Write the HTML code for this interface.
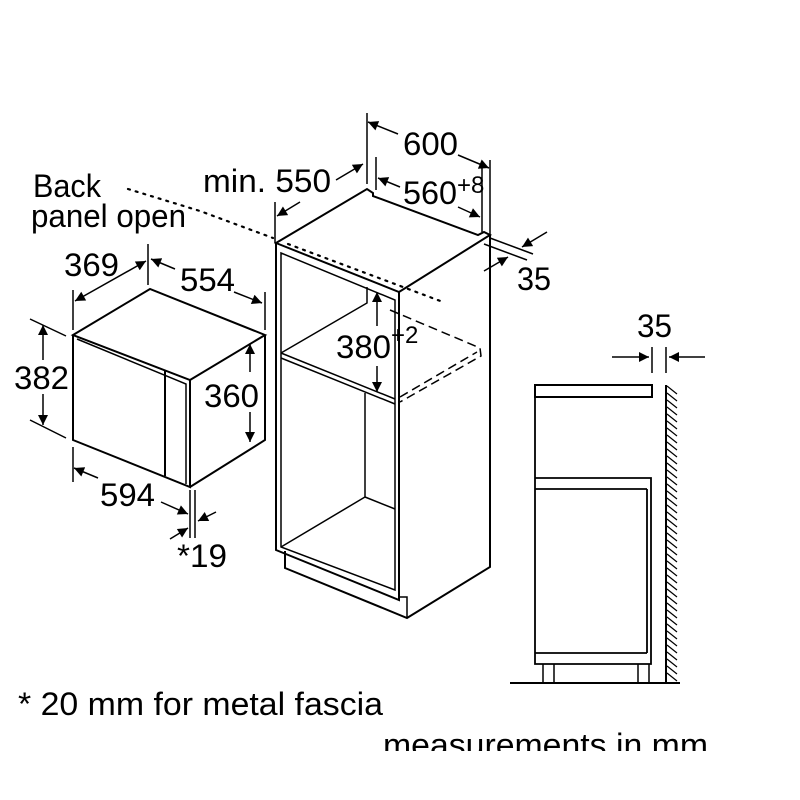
<!DOCTYPE html>
<html><head><meta charset="utf-8"><style>
html,body{margin:0;padding:0;background:#fff;}
svg{display:block;}
text{font-family:"Liberation Sans",Arial,sans-serif;fill:#000;}
</style></head><body>
<svg width="800" height="800" viewBox="0 0 800 800" xmlns="http://www.w3.org/2000/svg">
<defs>
<marker id="b" viewBox="0 0 10 10" refX="10" refY="5" markerWidth="15" markerHeight="10" orient="auto-start-reverse" markerUnits="userSpaceOnUse">
<path d="M0,0 L10,5 L0,10 z" fill="#000"/></marker>
<clipPath id="cl"><rect x="0" y="0" width="800" height="751"/></clipPath>
</defs>
<g fill="none" stroke="#000" stroke-width="2" stroke-linejoin="miter">
<!-- microwave -->
<path d="M73,335 L150,289 L265,335 L190,380 Z"/>
<path d="M73,335 L73,440 L190,487 L190,380"/>
<path d="M265,335 L265,440 L190,487"/>
<path d="M77,339 L186,384 L186,484" stroke-width="1.5"/>
<path d="M165,370 L165,476"/>
<!-- microwave dims -->
<path d="M73,290 V330 M148,244 V285 M265,292 V330" stroke-width="1.5"/>
<line x1="75" y1="301" x2="146" y2="261" marker-start="url(#b)" marker-end="url(#b)" stroke-width="1.5"/>
<line x1="151" y1="259" x2="175" y2="269" marker-start="url(#b)" stroke-width="1.5"/>
<line x1="234" y1="292" x2="262" y2="303" marker-end="url(#b)" stroke-width="1.5"/>
<path d="M30,319 L66,336 M30,420 L66,438" stroke-width="1.5"/>
<line x1="43" y1="325" x2="43" y2="360" marker-start="url(#b)" stroke-width="1.5"/>
<line x1="43" y1="394" x2="43" y2="425" marker-end="url(#b)" stroke-width="1.5"/>
<line x1="250" y1="344" x2="250" y2="372" marker-start="url(#b)" stroke-width="1.5"/>
<line x1="250" y1="412" x2="250" y2="442" marker-end="url(#b)" stroke-width="1.5"/>
<path d="M73,447 V482 M190,490 V538 M195,490 V538" stroke-width="1.5"/>
<line x1="74" y1="468" x2="98" y2="478" marker-start="url(#b)" stroke-width="1.5"/>
<line x1="161" y1="502" x2="188" y2="514" marker-end="url(#b)" stroke-width="1.5"/>
<line x1="170" y1="539" x2="188" y2="528" marker-end="url(#b)" stroke-width="1.5"/>
<line x1="216" y1="512" x2="198" y2="521" marker-end="url(#b)" stroke-width="1.5"/>
<!-- dotted back panel -->
<path d="M128,189 L200,211 L273,238" stroke-dasharray="2 6" stroke-linecap="round" stroke-width="2.2"/>
<path d="M288,244 L443,302" stroke-dasharray="2 6" stroke-linecap="round" stroke-width="2.2"/>
<!-- cabinet -->
<path d="M276,243 L367,189 L373,193 L373,196 L478,235 L484,232 L490,235 L399,292 Z"/>
<path d="M276,243 V550 L399,600 V292"/>
<path d="M281,253 L395,300 V590 L281,547 Z" stroke-width="1.5"/>
<path d="M281,353 L395,399 M281,358 L395,404" stroke-width="1.5"/>
<path d="M367,287 V303 L281,353" stroke-width="1.5"/>
<path d="M365,393 V497 L281,547 M365,497 L395,509" stroke-width="1.5"/>
<path d="M490,235 V567 L407,618 L285,568 V551"/>
<path d="M399,597 H407 V618" stroke-width="1.5"/>
<path d="M390,310 L480,348 L481,356 L400,402 M400,397 L477,352" stroke-dasharray="9 5" stroke-width="1.5"/>
<!-- cabinet dims -->
<path d="M367,113 V184 M490,160 V235 M376,157 V190 M482,167 V232 M275,202 V243" stroke-width="1.5"/>
<line x1="368" y1="122" x2="398" y2="134" marker-start="url(#b)" stroke-width="1.5"/>
<line x1="458" y1="155" x2="489" y2="168" marker-end="url(#b)" stroke-width="1.5"/>
<line x1="378" y1="178" x2="400" y2="187" marker-start="url(#b)" stroke-width="1.5"/>
<line x1="458" y1="207" x2="480" y2="217" marker-end="url(#b)" stroke-width="1.5"/>
<line x1="277" y1="216" x2="300" y2="202" marker-start="url(#b)" stroke-width="1.5"/>
<line x1="336" y1="180" x2="363" y2="164" marker-end="url(#b)" stroke-width="1.5"/>
<path d="M490,238 L533,254 M484,244 L527,260" stroke-width="1.5"/>
<line x1="547" y1="232" x2="522" y2="247" marker-end="url(#b)" stroke-width="1.5"/>
<line x1="484" y1="271" x2="508" y2="257" marker-end="url(#b)" stroke-width="1.5"/>
<line x1="377" y1="292" x2="377" y2="326" marker-start="url(#b)" stroke-width="1.5"/>
<line x1="377" y1="366" x2="377" y2="392" marker-end="url(#b)" stroke-width="1.5"/>
<!-- side view -->
<path d="M652,347 V373 M666,347 V373" stroke-width="1.5"/>
<line x1="612" y1="357" x2="649" y2="357" marker-end="url(#b)" stroke-width="1.5"/>
<line x1="705" y1="357" x2="669" y2="357" marker-end="url(#b)" stroke-width="1.5"/>
<rect x="535" y="385" width="117" height="12"/>
<path d="M535,397 V664 H651 V478 H535 M535,489 H647 M535,653 H647 M647,489 V653" stroke-width="1.8"/>
<path d="M543,664 V683 M554,664 V683 M638,664 V683 M649,664 V683" stroke-width="1.5"/>
<path d="M510,683 H680"/>
<path d="M666,385 V683"/>
</g>
<g stroke="#000" stroke-width="1.2">
<path d="M667,386 l10,8 M667,393 l10,8 M667,400 l10,8 M667,407 l10,8 M667,414 l10,8 M667,421 l10,8 M667,428 l10,8 M667,435 l10,8 M667,442 l10,8 M667,449 l10,8 M667,456 l10,8 M667,463 l10,8 M667,470 l10,8 M667,477 l10,8 M667,484 l10,8 M667,491 l10,8 M667,498 l10,8 M667,505 l10,8 M667,512 l10,8 M667,519 l10,8 M667,526 l10,8 M667,533 l10,8 M667,540 l10,8 M667,547 l10,8 M667,554 l10,8 M667,561 l10,8 M667,568 l10,8 M667,575 l10,8 M667,582 l10,8 M667,589 l10,8 M667,596 l10,8 M667,603 l10,8 M667,610 l10,8 M667,617 l10,8 M667,624 l10,8 M667,631 l10,8 M667,638 l10,8 M667,645 l10,8 M667,652 l10,8 M667,659 l10,8 M667,666 l10,8 M667,673 l10,8"/>
</g>
<g font-size="32">
<text x="33" y="197" textLength="68" lengthAdjust="spacingAndGlyphs">Back</text>
<text x="31" y="227" textLength="155" lengthAdjust="spacingAndGlyphs">panel open</text>
<text x="64" y="276" textLength="55" lengthAdjust="spacingAndGlyphs">369</text>
<text x="180" y="291" textLength="55" lengthAdjust="spacingAndGlyphs">554</text>
<text x="14" y="389" textLength="55" lengthAdjust="spacingAndGlyphs">382</text>
<text x="204" y="407" textLength="55" lengthAdjust="spacingAndGlyphs">360</text>
<text x="100" y="506" textLength="55" lengthAdjust="spacingAndGlyphs">594</text>
<text x="177" y="567" textLength="50" lengthAdjust="spacingAndGlyphs">*19</text>
<text x="203" y="192" textLength="128" lengthAdjust="spacingAndGlyphs">min. 550</text>
<text x="403" y="155" textLength="55" lengthAdjust="spacingAndGlyphs">600</text>
<text x="403" y="204" textLength="54" lengthAdjust="spacingAndGlyphs">560</text>
<text x="457" y="193" font-size="24">+8</text>
<text x="517" y="290" textLength="34" lengthAdjust="spacingAndGlyphs">35</text>
<text x="336" y="358" textLength="55" lengthAdjust="spacingAndGlyphs">380</text>
<text x="391" y="343" font-size="24">+2</text>
<text x="637" y="337" textLength="35" lengthAdjust="spacingAndGlyphs">35</text>
<text x="18" y="715" textLength="365" lengthAdjust="spacingAndGlyphs">* 20 mm for metal fascia</text>
<text x="383" y="756" clip-path="url(#cl)" textLength="325" lengthAdjust="spacingAndGlyphs">measurements in mm</text>
</g>
</svg>
</body></html>
